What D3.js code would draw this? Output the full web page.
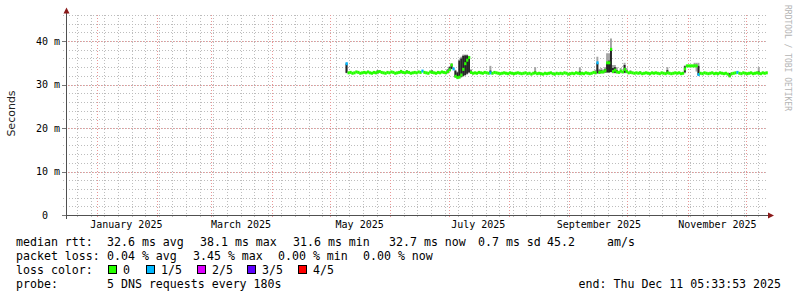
<!DOCTYPE html>
<html>
<head>
<meta charset="utf-8">
<script src="https://cdn.jsdelivr.net/npm/d3@7"></script>
<style>
body { margin: 0; background: #ffffff; }
svg text { font-family: "DejaVu Sans Mono", monospace; white-space: pre; }
</style>
</head>
<body>
<div id="chart"></div>
<script>
// graph window: last 360 days ending at the "end:" time
var endTime = new Date(2025, 11, 11, 5, 33, 53);
var spanDays = 360;
var firstDay = new Date(2025, 4, 9);

// median rtt in ms, one value per day starting at firstDay
var medianMs = [
    34.8, 32.7, 32.8, 32.6, 32.7, 32.9, 32.8, 32.6, 32.7, 32.8,
    32.7, 32.9, 32.7, 32.6, 32.8, 32.7, 32.9, 33.0, 32.8, 32.7,
    32.6, 32.8, 32.7, 32.9, 32.8, 32.6, 32.7, 32.8, 33.0, 32.8,
    32.7, 32.9, 32.8, 32.6, 32.7, 32.8, 32.7, 32.9, 32.8, 33.1,
    32.8, 32.7, 32.6, 32.9, 32.8, 32.7, 32.6, 32.8, 32.7, 32.9,
    32.8, 32.7, 33.0, 33.4, 34.5, 33.6, 31.9, 31.6, 31.7, 32.2,
    33.5, 34.8, 35.6, 36.2, 32.8, 32.6, 32.7, 32.6, 32.8, 32.7,
    32.6, 32.8, 32.7, 32.6, 32.7, 32.6, 32.8, 32.7, 32.6, 32.5,
    32.6, 32.7, 32.6, 32.5, 32.7, 32.6, 32.5, 32.6, 32.7, 32.6,
    32.5, 32.6, 32.7, 32.5, 32.6, 32.4, 32.6, 32.7, 32.5, 32.6,
    32.5, 32.4, 32.6, 32.5, 32.6, 32.7, 32.5, 32.4, 32.6, 32.5,
    32.6, 32.5, 32.7, 32.6, 32.4, 32.5, 32.6, 32.5, 32.7, 32.6,
    32.5, 32.6, 32.5, 32.7, 32.6, 32.5, 32.6, 32.8, 32.7, 35.0,
    32.8, 32.9, 32.9, 33.2, 35.0, 35.0, 38.1, 33.0, 33.3, 32.9,
    32.8, 33.1, 32.9, 33.5, 33.0, 32.7, 32.8, 32.7, 32.6, 32.7,
    32.6, 32.7, 32.5, 32.6, 32.7, 32.6, 32.5, 32.7, 32.6, 32.7,
    32.6, 32.5, 32.7, 32.6, 32.5, 32.7, 32.6, 32.5, 32.6, 32.7,
    32.6, 32.7, 32.5, 32.6, 33.6, 34.3, 34.3, 34.3, 34.3, 34.3,
    34.3, 32.3, 32.6, 32.5, 32.7, 32.6, 32.5, 32.6, 32.7, 32.5,
    32.6, 32.5, 32.7, 32.6, 32.5, 32.6, 32.4, 32.0, 32.5, 32.6,
    32.7, 32.8, 32.6, 32.5, 32.7, 32.6, 32.5, 32.6, 32.7, 32.5,
    32.6, 32.7, 32.6, 32.5, 32.7, 32.6, 32.7
];

// days (index into medianMs) where pings were lost, and how many of 5
var lossDays = [0, 39, 55, 74, 129, 181, 201];
var lossCount = [1, 1, 1, 1, 1, 1, 1];

// smoke: outer spread (light) and inner spread (dark) on the noisy days
var smokeDays = [0, 16, 28, 31, 44, 52, 53, 54, 56, 57, 58, 59, 60, 61, 62, 63, 64,
    74, 97, 120, 128, 129, 130, 131, 132, 133, 134, 135, 136, 137, 138, 139, 141,
    143, 144, 146, 151, 165, 174, 179, 180, 181, 197, 212];
var smokeLow = [32.6, 32.4, 32.5, 32.5, 32.5, 32.5, 33.0, 33.5, 31.6, 31.4, 31.5, 31.6, 31.8, 32.0, 32.3, 32.6, 32.5,
    32.4, 32.4, 32.3, 32.4, 32.5, 32.5, 32.6, 32.6, 32.7, 32.7, 32.7, 32.8, 32.6, 32.6, 32.6, 32.6,
    32.6, 32.6, 32.5, 32.4, 32.4, 32.6, 34.0, 33.0, 32.0, 31.7, 32.4];
var smokeHigh = [35.0, 33.3, 33.4, 33.3, 33.3, 33.6, 34.2, 34.9, 33.4, 33.0, 35.8, 36.4, 36.9, 36.9, 36.9, 36.6, 33.5,
    34.3, 34.0, 34.0, 33.4, 36.4, 33.6, 33.8, 33.5, 34.0, 37.2, 37.2, 40.6, 34.5, 34.5, 34.0, 33.8,
    35.0, 33.8, 33.3, 33.1, 34.0, 34.4, 35.0, 35.0, 35.0, 32.7, 34.0];
var coreLow = [32.7, 32.7, 32.8, 32.8, 32.8, 32.8, 33.2, 33.6, 31.8, 31.6, 31.7, 31.8, 32.0, 32.2, 32.5, 32.8, 32.6,
    32.6, 32.5, 32.5, null, 32.6, 32.7, 32.7, null, 32.8, 32.8, 32.8, 32.9, 32.8, 32.7, 32.7, null,
    32.7, 32.7, null, null, 32.6, 32.8, null, null, 32.2, 31.8, 32.5];
var coreHigh = [34.8, 33.2, 33.2, 33.2, 33.2, 33.4, 34.0, 34.6, 33.2, 32.8, 35.5, 36.0, 36.6, 36.7, 36.7, 36.4, 33.2,
    33.2, 33.0, 33.0, null, 35.0, 33.2, 33.3, null, 33.6, 35.0, 35.5, 38.3, 33.8, 34.0, 33.3, null,
    34.5, 33.3, null, null, 33.3, 34.2, null, null, 34.3, 32.6, 33.0];

var yTicks = [0, 10, 20, 30, 40];
var lossColors = ["#26ff00", "#00b8ff", "#dd00ff", "#5e00ff", "#ff0000"];
var lossLabels = ["0", "1/5", "2/5", "3/5", "4/5"];
var rttStats = ["32.6 ms avg", "38.1 ms max", "31.6 ms min", "32.7 ms now", "0.7 ms sd", "45.2", "am/s"];
var lossStats = ["0.04 % avg", "3.45 % max", "0.00 % min", "0.00 % now"];

function drawGraph() {
    var width = 797, height = 297;
    var startTime = d3.timeDay.offset(endTime, -spanDays);

    var svg = d3.select("#chart").append("svg")
        .attr("width", width)
        .attr("height", height)
        .style("display", "block");

    svg.append("rect").attr("width", width).attr("height", height).attr("fill", "#ffffff");

    var x = d3.scaleTime().domain([startTime, endTime]).range([66, 766]);
    var y = d3.scaleLinear().domain([0, 46]).range([215, 15]);

    var gridColor = "#bdbdbd", majorColor = "#e99696";
    var grid = svg.append("g").attr("shape-rendering", "crispEdges");

    // minor grid: weeks and every 2 ms
    grid.selectAll(".vminor")
        .data(d3.timeSunday.range(startTime, endTime))
        .enter().append("line")
        .attr("x1", d => Math.round(x(d)) + 0.5).attr("x2", d => Math.round(x(d)) + 0.5)
        .attr("y1", 15).attr("y2", 218)
        .attr("stroke", gridColor).attr("stroke-dasharray", "1,2");
    grid.selectAll(".hminor")
        .data(y.ticks(23))
        .enter().append("line")
        .attr("x1", 63).attr("x2", 767)
        .attr("y1", d => Math.round(y(d)) + 0.5).attr("y2", d => Math.round(y(d)) + 0.5)
        .attr("stroke", gridColor).attr("stroke-dasharray", "1,2");

    // major grid: months and labelled values
    grid.selectAll(".vmajor")
        .data(d3.timeMonth.range(startTime, endTime))
        .enter().append("line")
        .attr("x1", d => Math.round(x(d)) + 0.5).attr("x2", d => Math.round(x(d)) + 0.5)
        .attr("y1", 15).attr("y2", 218)
        .attr("stroke", majorColor).attr("stroke-dasharray", "1,2");
    grid.selectAll(".hmajor")
        .data(yTicks)
        .enter().append("line")
        .attr("x1", 62).attr("x2", 767)
        .attr("y1", d => Math.round(y(d)) + 0.5).attr("y2", d => Math.round(y(d)) + 0.5)
        .attr("stroke", majorColor).attr("stroke-dasharray", "1,2");

    var dayDate = function (i) { return d3.timeDay.offset(firstDay, i); };
    var dayWidth = x(dayDate(1)) - x(dayDate(0));

    // smoke
    var smoke = smokeDays.map(function (d, i) {
        return {day: d, lo: smokeLow[i], hi: smokeHigh[i], clo: coreLow[i], chi: coreHigh[i]};
    });
    svg.append("g").selectAll("rect")
        .data(smoke)
        .enter().append("rect")
        .attr("x", d => x(dayDate(d.day)))
        .attr("width", dayWidth)
        .attr("y", d => y(d.hi))
        .attr("height", d => y(d.lo) - y(d.hi))
        .attr("fill", "#a3a3a3");
    svg.append("g").selectAll("rect")
        .data(smoke.filter(d => d.clo !== null))
        .enter().append("rect")
        .attr("x", d => x(dayDate(d.day)))
        .attr("width", dayWidth)
        .attr("y", d => y(d.chi))
        .attr("height", d => y(d.clo) - y(d.chi))
        .attr("fill", "#262626");

    // median band coloured by loss
    var median = medianMs.map(function (v, i) {
        var k = lossDays.indexOf(i);
        return {day: i, value: v, loss: k < 0 ? 0 : lossCount[k]};
    });
    svg.append("g").selectAll("rect")
        .data(median)
        .enter().append("rect")
        .attr("x", d => x(dayDate(d.day)))
        .attr("width", dayWidth + 0.3)
        .attr("y", d => y(d.value) - 1.5)
        .attr("height", 3)
        .attr("fill", d => lossColors[d.loss]);

    // axes
    var axisColor = "#505050", arrowColor = "#8b1a1a";
    var axes = svg.append("g").attr("shape-rendering", "crispEdges");
    axes.append("line").attr("x1", 62).attr("x2", 769).attr("y1", 215.5).attr("y2", 215.5).attr("stroke", axisColor);
    axes.append("line").attr("x1", 66.5).attr("x2", 66.5).attr("y1", 219).attr("y2", 12).attr("stroke", axisColor);
    axes.selectAll(".ytick")
        .data(yTicks)
        .enter().append("line")
        .attr("x1", 62).attr("x2", 66)
        .attr("y1", d => Math.round(y(d)) + 0.5).attr("y2", d => Math.round(y(d)) + 0.5)
        .attr("stroke", "#777777");
    svg.append("path").attr("d", "M66.5,7.5L63.5,13.5L69.5,13.5Z").attr("fill", arrowColor);
    svg.append("path").attr("d", "M774,215.5L768,212.5L768,218.5Z").attr("fill", arrowColor);

    // y labels
    var yAxis = d3.axisLeft(y)
        .tickValues(yTicks)
        .tickSize(0)
        .tickPadding(6)
        .tickFormat(d => d === 0 ? "0\u00a0\u00a0" : d + " m");
    var gy = svg.append("g").attr("transform", "translate(66,0)").call(yAxis);
    gy.select(".domain").remove();
    gy.selectAll("text").attr("font-family", "DejaVu Sans Mono").attr("font-size", 10).attr("fill", "#000");

    // x labels, centred half a month after the month start
    var labelMonths = d3.timeMonth.every(2).range(new Date(2025, 0, 1), endTime);
    var xAxis = d3.axisBottom(x)
        .tickValues(labelMonths.map(d => d3.timeDay.offset(d, 15)))
        .tickSize(0)
        .tickPadding(6)
        .tickFormat(d => d3.timeFormat("%B %Y")(d3.timeMonth.floor(d)));
    var gx = svg.append("g").attr("transform", "translate(0,215)").call(xAxis);
    gx.select(".domain").remove();
    gx.selectAll("text").attr("font-family", "DejaVu Sans Mono").attr("font-size", 10).attr("fill", "#000");

    svg.append("text")
        .attr("transform", "translate(15,113.5) rotate(-90)")
        .attr("text-anchor", "middle")
        .style("font-family", "'DejaVu Sans', sans-serif")
        .style("font-size", "11px")
        .attr("fill", "#222")
        .text("Seconds");

    svg.append("text")
        .attr("transform", "translate(785,5) rotate(90)")
        .style("font-size", "8px")
        .attr("fill", "#b4b4b4")
        .text("RRDTOOL / TOBI OETIKER");

    // legend
    var legend = svg.append("g").style("font-size", "11.6px").attr("fill", "#000");
    var rttX = [107, 200, 293, 389, 478, 547, 607];
    var lossX = [107, 193, 278, 363];
    legend.append("text").attr("x", 16).attr("y", 245.5).text("median rtt:");
    legend.selectAll(".rtt").data(rttStats).enter().append("text")
        .attr("x", (d, i) => rttX[i]).attr("y", 245.5).text(d => d);
    legend.append("text").attr("x", 16).attr("y", 259.5).text("packet loss:");
    legend.selectAll(".loss").data(lossStats).enter().append("text")
        .attr("x", (d, i) => lossX[i]).attr("y", 259.5).text(d => d);
    legend.append("text").attr("x", 16).attr("y", 273.5).text("loss color:");
    var boxX = [108, 146, 197, 247, 298];
    legend.selectAll(".box").data(lossColors).enter().append("rect")
        .attr("x", (d, i) => boxX[i] + 0.5).attr("y", 265.5)
        .attr("width", 8).attr("height", 8)
        .attr("fill", d => d).attr("stroke", "#000").attr("shape-rendering", "crispEdges");
    legend.selectAll(".boxlabel").data(lossLabels).enter().append("text")
        .attr("x", (d, i) => boxX[i] + 15).attr("y", 273.5).text(d => d);
    legend.append("text").attr("x", 16).attr("y", 287.5).text("probe:");
    legend.append("text").attr("x", 107).attr("y", 287.5).text("5 DNS requests every 180s");
    legend.append("text").attr("x", 781).attr("y", 287.5).attr("text-anchor", "end")
        .text("end: Thu Dec 11 05:33:53 2025");
}

drawGraph();
</script>
</body>
</html>
